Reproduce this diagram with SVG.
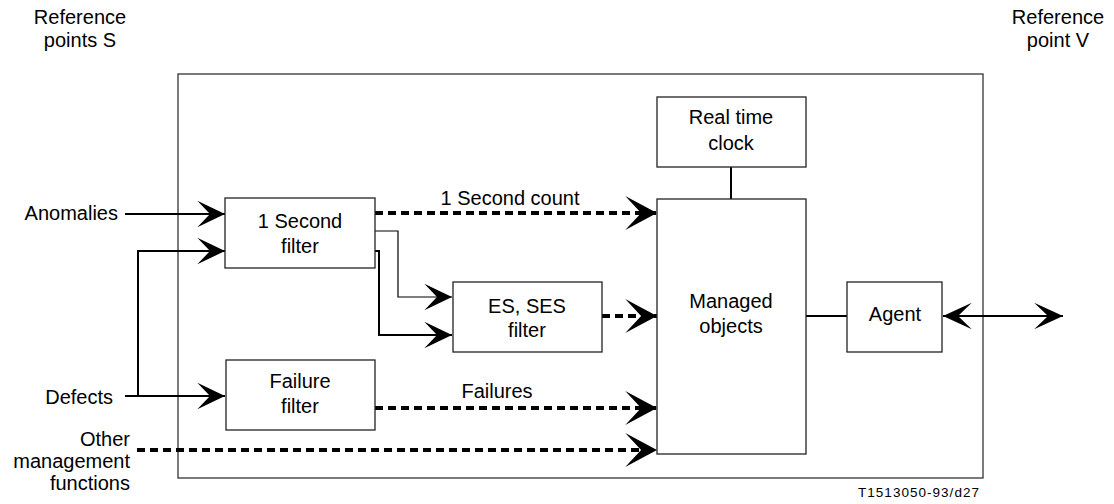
<svg xmlns="http://www.w3.org/2000/svg" width="1114" height="504" viewBox="0 0 1114 504">
<style>
text{font-family:"Liberation Sans",Arial,sans-serif;font-size:20px;fill:#000}
.box{fill:#fff;stroke:#222;stroke-width:1.3}
.solid{fill:none;stroke:#000;stroke-width:2}
.thin{fill:none;stroke:#000;stroke-width:1.2}
.dash{fill:none;stroke:#000;stroke-width:4;stroke-dasharray:8 5}
.c{text-anchor:middle}
.e{text-anchor:end}
</style>
<defs>
<marker id="a" markerUnits="userSpaceOnUse" markerWidth="30" markerHeight="30" viewBox="-25 -13 26 26" refX="0" refY="0" orient="auto">
<path d="M0,0 L-24,-11.5 L-13,0 L-24,11.5 Z" fill="#000"/>
</marker>
<marker id="d" markerUnits="userSpaceOnUse" markerWidth="36" markerHeight="36" viewBox="-31 -17 32 34" refX="0" refY="0" orient="auto">
<path d="M0,0 L-30,-16 L-15,0 L-30,16 Z" fill="#000"/>
</marker>
<marker id="s" markerUnits="userSpaceOnUse" markerWidth="30" markerHeight="30" viewBox="-25 -13 26 26" refX="0" refY="0" orient="auto-start-reverse">
<path d="M0,0 L-25,-11.5 L-13,0 L-25,11.5 Z" fill="#000"/>
</marker>
</defs>

<g id="frame"><rect x="178" y="74" width="805" height="404" fill="none" stroke="#333" stroke-width="1.3"/></g>

<g id="labels">
<text class="c" x="80" y="24">Reference</text>
<text class="c" x="80" y="47">points S</text>
<text class="c" x="1058" y="24">Reference</text>
<text class="c" x="1058" y="47">point V</text>
<text class="e" x="118" y="220">Anomalies</text>
<text class="e" x="113" y="404">Defects</text>
<text class="e" x="130" y="446">Other</text>
<text class="e" x="130" y="468">management</text>
<text class="e" x="130" y="490">functions</text>
<text class="c" x="510" y="205">1 Second count</text>
<text class="c" x="497" y="398">Failures</text>
<text class="e" x="979" y="497" style="font-size:13.5px" textLength="121" lengthAdjust="spacing">T1513050-93/d27</text>
</g>

<g id="connectors">
<line class="solid" x1="125" y1="214" x2="225" y2="214" marker-end="url(#a)"/>
<polyline class="solid" points="125,396 138,396 138,251 225,251" marker-end="url(#a)"/>
<line class="solid" x1="138" y1="396" x2="225" y2="396" marker-end="url(#a)"/>
<polyline class="thin" points="375,231 398,231 398,297 452,297" marker-end="url(#a)"/>
<polyline class="solid" points="375,251 379,251 379,335 452,335" marker-end="url(#a)"/>
<line class="dash" x1="375" y1="213" x2="657" y2="213" marker-end="url(#d)"/>
<line class="dash" x1="602" y1="316" x2="657" y2="316" marker-end="url(#d)"/>
<line class="dash" x1="375" y1="408" x2="657" y2="408" marker-end="url(#d)"/>
<line class="dash" x1="137" y1="450" x2="657" y2="450" marker-end="url(#d)"/>
<line class="solid" x1="731" y1="167" x2="731" y2="199"/>
<line class="solid" x1="806" y1="316" x2="847" y2="316"/>
<line class="solid" x1="943" y1="316" x2="1063" y2="316" marker-start="url(#s)" marker-end="url(#s)"/>
</g>

<g id="one-second-filter">
<rect class="box" x="225" y="198" width="150" height="70"/>
<text class="c" x="300" y="228">1 Second</text>
<text class="c" x="300" y="253">filter</text>
</g>
<g id="es-ses-filter">
<rect class="box" x="453" y="282" width="149" height="70"/>
<text class="c" x="527" y="313">ES, SES</text>
<text class="c" x="527" y="337">filter</text>
</g>
<g id="failure-filter">
<rect class="box" x="226" y="360" width="149" height="70"/>
<text class="c" x="300" y="388">Failure</text>
<text class="c" x="300" y="413">filter</text>
</g>
<g id="real-time-clock">
<rect class="box" x="657" y="97" width="149" height="70"/>
<text class="c" x="731" y="124">Real time</text>
<text class="c" x="731" y="150">clock</text>
</g>
<g id="managed-objects">
<rect class="box" x="657" y="199" width="149" height="255"/>
<text class="c" x="731" y="308">Managed</text>
<text class="c" x="731" y="333">objects</text>
</g>
<g id="agent">
<rect class="box" x="847" y="282" width="95" height="70"/>
<text class="c" x="895" y="321">Agent</text>
</g>
</svg>
